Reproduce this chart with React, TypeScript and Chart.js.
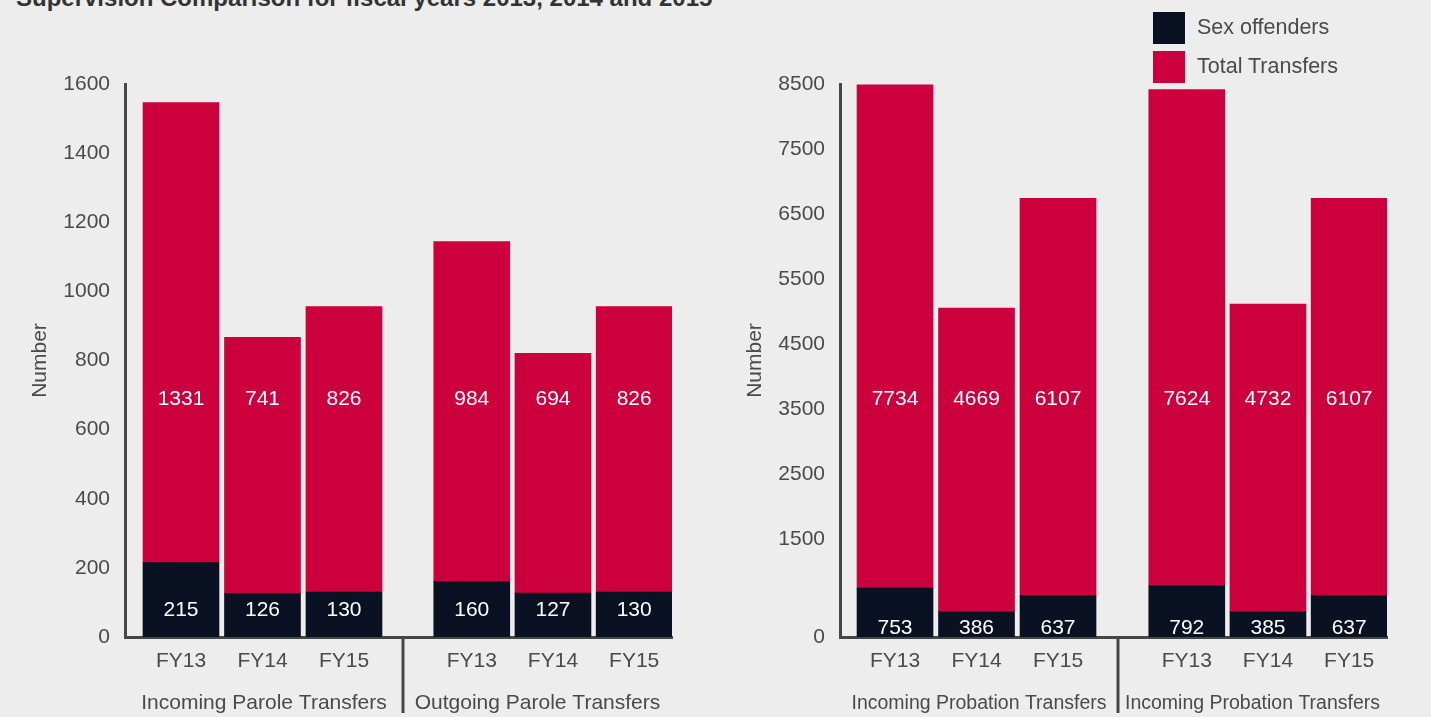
import React, { useEffect, useRef } from "react";
import { Chart, registerables } from "chart.js";

Chart.register(...registerables);

// ---------- data ----------
const fiscalYears = ["FY13", "FY14", "FY15"];
const seriesNames = ["Sex offenders", "Total Transfers"];
const chartTitle = "Supervision Comparison for fiscal years 2013, 2014 and 2015";
const yAxisTitle = "Number";

const incomingParoleSex = [215, 126, 130];
const incomingParoleTotal = [1331, 741, 826];
const outgoingParoleSex = [160, 127, 130];
const outgoingParoleTotal = [984, 694, 826];
const incomingProbationSex = [753, 386, 637];
const incomingProbationTotal = [7734, 4669, 6107];
const incomingProbation2Sex = [792, 385, 637];
const incomingProbation2Total = [7624, 4732, 6107];

const paroleTicks = [0, 200, 400, 600, 800, 1000, 1200, 1400, 1600];
const probationTicks = [0, 1500, 2500, 3500, 4500, 5500, 6500, 7500, 8500];

// ---------- styles ----------
const FONT = '"Liberation Sans", Arial, Helvetica, sans-serif';
const RED = "#CC003C";
const DARK = "#0A1122";
const AXIS = "#464646";
const TEXT = "#4a4a4a";
const BG = "#ECEDEC";
const CANVAS_H = 717;

const barLabelPlugin = {
  id: "barLabels",
  afterDatasetsDraw(chart: any, _args: any, opts: any) {
    const { ctx, chartArea } = chart;
    ctx.save();
    ctx.font = `21px ${FONT}`;
    ctx.fillStyle = "#ffffff";
    ctx.textAlign = "center";
    ctx.textBaseline = "middle";
    chart.data.datasets.forEach((ds: any, di: number) => {
      const meta = chart.getDatasetMeta(di);
      meta.data.forEach((bar: any, i: number) => {
        const value = ds.data[i].y;
        const y =
          di === 0
            ? chartArea.bottom - opts.darkOffset
            : chartArea.top + opts.redFrac * (chartArea.bottom - chartArea.top);
        ctx.fillText(String(value), bar.x, y);
      });
    });
    if (opts.separator) {
      ctx.strokeStyle = AXIS;
      ctx.lineWidth = 3;
      ctx.beginPath();
      ctx.moveTo(chartArea.left, chartArea.bottom + 2);
      ctx.lineTo(chartArea.left, chart.height - 4);
      ctx.stroke();
    }
    ctx.restore();
  },
};

type PanelProps = {
  sex: number[];
  total: number[];
  group: string;
  groupSize: number;
  ticks: number[];
  showY: boolean;
  darkOffset: number;
  separator: boolean;
  left: number;
  width: number;
  padLeft: number;
  padRight: number;
  xMin: number;
  xMax: number;
};

function Panel(p: PanelProps) {
  const ref = useRef<HTMLCanvasElement>(null);
  useEffect(() => {
    if (!ref.current) return;
    const font = { family: FONT, size: 21 };
    const chart = new Chart(ref.current, {
      type: "bar",
      data: {
        datasets: [
          {
            label: seriesNames[0],
            data: p.sex.map((v, i) => ({ x: i, y: v })),
            backgroundColor: DARK,
            barThickness: 76,
          },
          {
            label: seriesNames[1],
            data: p.total.map((v, i) => ({ x: i, y: v })),
            backgroundColor: RED,
            barThickness: 76,
          },
        ],
      },
      options: {
        animation: false,
        responsive: false,
        maintainAspectRatio: false,
        layout: { padding: { top: 84, left: p.padLeft, right: p.padRight, bottom: 0 } },
        plugins: {
          legend: { display: false },
          tooltip: { enabled: false },
          barLabels: { darkOffset: p.darkOffset, redFrac: 0.5696, separator: p.separator },
        } as any,
        scales: {
          x: {
            type: "linear",
            offset: false,
            min: p.xMin,
            max: p.xMax,
            stacked: true,
            grid: { display: false, drawTicks: false, offset: false },
            border: { display: true, color: AXIS, width: 3 },
            afterBuildTicks: (s: any) => {
              s.ticks = fiscalYears.map((_, i) => ({ value: i }));
            },
            afterFit: (s: any) => {
              s.height = 80;
            },
            ticks: {
              callback: (v: any) => fiscalYears[v as number],
              padding: 12,
              font,
              color: TEXT,
              autoSkip: false,
              maxRotation: 0,
            },
            title: {
              display: true,
              text: p.group,
              font: { family: FONT, size: p.groupSize, lineHeight: 25.2 / p.groupSize },
              color: TEXT,
              padding: { top: 0, bottom: 1 },
            },
          },
          y: {
            display: p.showY,
            min: 0,
            max: p.ticks[p.ticks.length - 1],
            stacked: true,
            grid: { display: false, drawTicks: false },
            border: { display: true, color: AXIS, width: 3 },
            afterBuildTicks: (s: any) => {
              s.ticks = p.ticks.map((v) => ({ value: v }));
            },
            afterFit: (s: any) => {
              s.width = p.showY ? 125 : 0;
            },
            ticks: {
              padding: 15,
              font,
              color: TEXT,
              autoSkip: false,
              callback: (v: any) => String(v),
            },
            title: {
              display: true,
              text: yAxisTitle,
              font,
              color: TEXT,
              padding: { top: 28, bottom: 0 },
            },
          },
        } as any,
      },
      plugins: [barLabelPlugin],
    });
    return () => chart.destroy();
  }, []);
  return (
    <canvas
      ref={ref}
      width={p.width}
      height={CANVAS_H}
      style={{ position: "absolute", left: p.left, top: 0, width: p.width, height: CANVAS_H }}
    />
  );
}

export default function App() {
  const legendText: React.CSSProperties = {
    position: "absolute",
    left: 1197,
    fontFamily: FONT,
    fontSize: 21.5,
    lineHeight: "24px",
    color: TEXT,
    whiteSpace: "nowrap",
  };
  return (
    <div
      style={{
        position: "absolute",
        left: 0,
        top: 0,
        width: 1431,
        height: 717,
        overflow: "hidden",
        background: BG,
      }}
    >
      <div
        style={{
          position: "absolute",
          left: 16,
          top: -14,
          fontFamily: FONT,
          fontWeight: "bold",
          fontSize: 24,
          lineHeight: "24px",
          color: "#333333",
          whiteSpace: "nowrap",
        }}
      >
        {chartTitle}
      </div>
      <Panel
        sex={incomingParoleSex}
        total={incomingParoleTotal}
        group="Incoming Parole Transfers"
        groupSize={21}
        ticks={paroleTicks}
        showY={true}
        darkOffset={27}
        separator={false}
        left={0}
        width={403}
        padLeft={0}
        padRight={0}
        xMin={-0.687}
        xMax={2.724}
      />
      <Panel
        sex={outgoingParoleSex}
        total={outgoingParoleTotal}
        group="Outgoing Parole Transfers"
        groupSize={21}
        ticks={paroleTicks}
        showY={false}
        darkOffset={27}
        separator={true}
        left={398}
        width={280}
        padLeft={5}
        padRight={6}
        xMin={-0.847}
        xMax={2.466}
      />
      <Panel
        sex={incomingProbationSex}
        total={incomingProbationTotal}
        group="Incoming Probation Transfers"
        groupSize={19.5}
        ticks={probationTicks}
        showY={true}
        darkOffset={9}
        separator={false}
        left={715}
        width={403}
        padLeft={0}
        padRight={0}
        xMin={-0.675}
        xMax={2.736}
      />
      <Panel
        sex={incomingProbation2Sex}
        total={incomingProbation2Total}
        group="Incoming Probation Transfers"
        groupSize={19.5}
        ticks={probationTicks}
        showY={false}
        darkOffset={9}
        separator={true}
        left={1113}
        width={280}
        padLeft={5}
        padRight={6}
        xMin={-0.847}
        xMax={2.466}
      />
      <div style={{ position: "absolute", left: 1153, top: 12, width: 32, height: 32, background: DARK }} />
      <div style={{ position: "absolute", left: 1153, top: 51, width: 32, height: 32, background: RED }} />
      <div style={{ ...legendText, top: 15 }}>{seriesNames[0]}</div>
      <div style={{ ...legendText, top: 54 }}>{seriesNames[1]}</div>
    </div>
  );
}
